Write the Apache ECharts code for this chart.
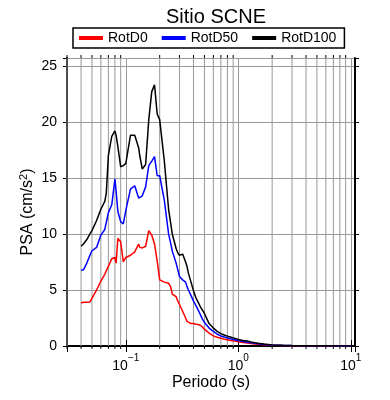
<!DOCTYPE html>
<html>
<head>
<meta charset="utf-8">
<script src="https://cdn.jsdelivr.net/npm/echarts/dist/echarts.min.js"></script>
<style>
  html, body { margin: 0; padding: 0; background: #fff; }
  #chart { width: 390px; height: 400px; }
</style>
</head>
<body>
<div id="chart"></div>
<script>
// periodos (s)
const periods = [0.04, 0.042, 0.045, 0.048, 0.05, 0.055, 0.06, 0.065, 0.067, 0.07, 0.075, 0.08, 0.082, 0.085, 0.09, 0.095,
  0.1, 0.11, 0.12, 0.13, 0.133, 0.14, 0.15, 0.16, 0.17, 0.18, 0.19, 0.2, 0.22, 0.24, 0.25, 0.26, 0.28, 0.29, 0.3,
  0.32, 0.34, 0.35, 0.36, 0.38, 0.4, 0.42, 0.44, 0.45, 0.46, 0.48, 0.5, 0.55, 0.6, 0.65, 0.7, 0.75, 0.8, 0.85, 0.9,
  0.95, 1, 1.1, 1.2, 1.3, 1.4, 1.5, 1.7, 2, 2.5, 3, 4, 5, 6, 7, 8, 10];

const rotD0 = [3.84, 3.9, 3.9, 3.93, 4.1, 5.0, 5.8, 6.4, 6.7, 7.1, 7.8, 7.9, 7.4, 9.6, 9.3, 7.5,
  7.9, 8.1, 8.4, 9.1, 8.8, 8.75, 8.9, 10.3, 9.9, 9.1, 7.6, 5.9, 5.7, 5.6, 5.3, 4.6, 4.4, 4.0, 3.7,
  3.1, 2.5, 2.2, 2.05, 2.0, 2.0, 1.95, 1.92, 1.88, 1.85, 1.7, 1.5, 1.15, 0.9, 0.78, 0.7, 0.6, 0.55, 0.5, 0.46,
  0.42, 0.38, 0.31, 0.26, 0.22, 0.18, 0.15, 0.11, 0.07, 0.04, 0.03, 0.02, 0.015, 0.01, 0.008, 0.006, 0.005];

const rotD50 = [6.76, 6.8, 7.4, 8.1, 8.5, 8.8, 9.9, 10.4, 11.0, 11.9, 12.6, 14.9, 13.8, 12.0, 11.1, 10.9,
  12.1, 14.0, 14.3, 13.2, 13.3, 13.4, 14.2, 16.1, 16.5, 16.9, 15.2, 15.2, 13.0, 10.0, 9.2, 8.4, 7.4, 6.8, 6.2,
  5.9, 5.7, 5.3, 5.0, 4.5, 4.0, 3.6, 3.2, 3.0, 2.8, 2.4, 2.1, 1.6, 1.3, 1.05, 0.9, 0.8, 0.72, 0.64, 0.58,
  0.53, 0.48, 0.4, 0.34, 0.28, 0.24, 0.2, 0.14, 0.08, 0.05, 0.035, 0.025, 0.018, 0.013, 0.01, 0.008, 0.006];

const rotD100 = [8.9, 9.1, 9.5, 10.0, 10.3, 11.2, 12.2, 12.9, 13.6, 17.0, 18.7, 19.2, 18.8, 17.8, 16.0, 16.1,
  16.3, 18.8, 18.8, 17.7, 17.0, 15.8, 16.2, 20.2, 22.7, 23.3, 20.7, 20.2, 16.5, 12.2, 11.0, 9.9, 8.7, 8.3, 8.1,
  8.2, 7.5, 7.1, 6.5, 5.7, 4.9, 4.3, 3.9, 3.7, 3.5, 3.2, 2.9, 2.0, 1.6, 1.3, 1.1, 0.98, 0.88, 0.8, 0.72,
  0.66, 0.58, 0.5, 0.44, 0.36, 0.3, 0.25, 0.18, 0.1, 0.06, 0.04, 0.03, 0.02, 0.015, 0.012, 0.01, 0.008];

// marcas menores del eje logaritmico
const minorTicks = [0.03, 0.04, 0.05, 0.06, 0.07, 0.08, 0.09, 0.2, 0.3, 0.4, 0.5, 0.6, 0.7, 0.8, 0.9,
  2, 3, 4, 5, 6, 7, 8, 9];

const xMin = 0.03, xMax = 10.9;
const yMin = 0, yMax = 25.7;
const font = 'Liberation Sans, Arial, Helvetica, sans-serif';
const gridColor = '#999';

const pair = (vals) => periods.map((p, i) => [p, vals[i]]);

const logLabel = function (v) {
  const n = Math.log10(v);
  if (Math.abs(n - Math.round(n)) > 1e-6) return '';
  const e = Math.round(n);
  return '{b|10}{sup|' + (e < 0 ? '\u2212' + (-e) : e) + '}';
};
const labelRich = {
  b: { fontSize: 14, fontFamily: font, color: '#000', lineHeight: 20, verticalAlign: 'bottom' },
  sup: { fontSize: 10, fontFamily: font, color: '#000', lineHeight: 20, verticalAlign: 'top', padding: [0, 0, 6, 0] }
};

const myChart = echarts.init(document.getElementById('chart'));

const frameLine = { show: true, lineStyle: { color: '#000', width: 2 } };

const option = {
  animation: false,
  title: {
    text: 'Sitio SCNE',
    left: 211,
    textAlign: 'center',
    top: 2,
    textStyle: { fontFamily: font, fontSize: 20, fontWeight: 'normal', color: '#000' }
  },
  legend: {
    left: 73,
    top: 28,
    orient: 'horizontal',
    icon: 'rect',
    itemWidth: 24,
    itemHeight: 4,
    itemGap: 14,
    padding: [3, 8, 3, 6],
    borderColor: '#000',
    borderWidth: 1.5,
    textStyle: { fontFamily: font, fontSize: 14, color: '#000' },
    data: ['RotD0', 'RotD50', 'RotD100']
  },
  grid: { left: 67, right: 35, top: 58, bottom: 54 },
  xAxis: [{
    type: 'log',
    min: xMin,
    max: xMax,
    name: 'Periodo (s)',
    nameLocation: 'middle',
    nameGap: 29,
    nameMoveOverlap: false,
    nameTextStyle: { fontFamily: font, fontSize: 16, color: '#000' },
    axisLine: frameLine,
    axisTick: { show: true, length: 6, lineStyle: { color: '#000', width: 1 } },
    axisLabel: { margin: 7, formatter: logLabel, rich: labelRich, showMinLabel: true, showMaxLabel: true },
    splitLine: { show: true, lineStyle: { color: gridColor, width: 1 } }
  }, {
    type: 'log',
    position: 'top',
    min: xMin,
    max: xMax,
    axisLine: frameLine,
    axisTick: { show: true, length: 6, lineStyle: { color: '#000', width: 1 } },
    axisLabel: { show: false },
    splitLine: { show: false }
  }],
  yAxis: [{
    type: 'value',
    min: yMin,
    max: yMax,
    interval: 5,
    name: 'PSA (cm/s{sup|2})',
    nameLocation: 'middle',
    nameGap: 30,
    nameMoveOverlap: false,
    nameTextStyle: {
      fontFamily: font, fontSize: 16, color: '#000',
      padding: [0, 20, 0, 0],
      rich: { sup: { fontSize: 11, fontFamily: font, color: '#000', verticalAlign: 'top', padding: [0, 0, 8, 0] } }
    },
    axisLine: frameLine,
    axisTick: { show: true, length: 4, lineStyle: { color: '#000', width: 1 } },
    axisLabel: {
      margin: 10,
      fontFamily: font, fontSize: 14, color: '#000',
      formatter: (v) => (v % 5 === 0 ? String(v) : '')
    },
    splitLine: { show: true, lineStyle: { color: gridColor, width: 1 } }
  }, {
    type: 'value',
    position: 'right',
    min: yMin,
    max: yMax,
    interval: 5,
    axisLine: frameLine,
    axisTick: { show: true, length: 4, lineStyle: { color: '#000', width: 1 } },
    axisLabel: { show: false },
    splitLine: { show: false }
  }],
  series: [{
    // rejilla y marcas menores
    type: 'custom',
    z: 1,
    silent: true,
    clip: false,
    xAxisIndex: 0,
    yAxisIndex: 0,
    encode: { x: 0, y: 1 },
    data: minorTicks.map(t => [t, yMin]),
    renderItem: function (params, api) {
      const t = api.value(0);
      const b = api.coord([t, yMin]);
      const tp = api.coord([t, yMax]);
      return {
        type: 'group',
        children: [
          { type: 'line', shape: { x1: b[0], y1: b[1], x2: tp[0], y2: tp[1] }, style: { stroke: gridColor, lineWidth: 1 } },
          { type: 'line', shape: { x1: b[0], y1: b[1], x2: b[0], y2: b[1] + 3 }, style: { stroke: '#000', lineWidth: 1 } },
          { type: 'line', shape: { x1: tp[0], y1: tp[1], x2: tp[0], y2: tp[1] - 3 }, style: { stroke: '#000', lineWidth: 1 } }
        ]
      };
    }
  }, {
    name: 'RotD0',
    type: 'line',
    z: 3,
    showSymbol: false,
    color: '#ff0000',
    lineStyle: { width: 1.5 },
    data: pair(rotD0)
  }, {
    name: 'RotD50',
    type: 'line',
    z: 3,
    showSymbol: false,
    color: '#0000ff',
    lineStyle: { width: 1.5 },
    data: pair(rotD50)
  }, {
    name: 'RotD100',
    type: 'line',
    z: 3,
    showSymbol: false,
    color: '#000000',
    lineStyle: { width: 1.5 },
    data: pair(rotD100)
  }]
};

myChart.setOption(option);
</script>
</body>
</html>
